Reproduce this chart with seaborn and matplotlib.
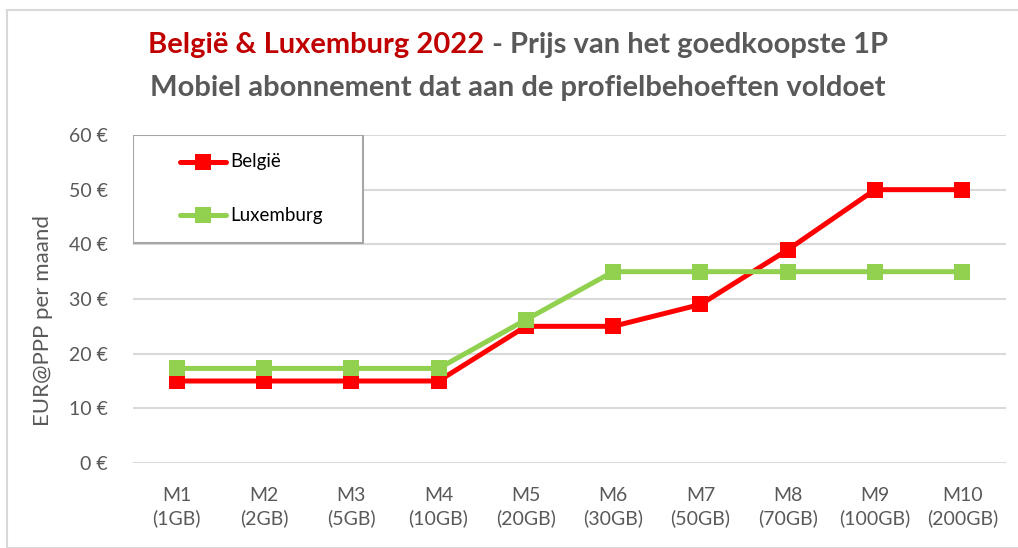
import numpy as np
import pandas as pd
import matplotlib
matplotlib.use("Agg")
import matplotlib.pyplot as plt
import seaborn as sns
from matplotlib.patches import Rectangle
from matplotlib.lines import Line2D

# data
plans = ["M1\n(1GB)", "M2\n(2GB)", "M3\n(5GB)", "M4\n(10GB)", "M5\n(20GB)",
         "M6\n(30GB)", "M7\n(50GB)", "M8\n(70GB)", "M9\n(100GB)", "M10\n(200GB)"]
belgie = [15, 15, 15, 15, 25, 25, 29, 39, 50, 50]
luxemburg = [17.3, 17.3, 17.3, 17.3, 26.2, 35, 35, 35, 35, 35]
countries = ["België", "Luxemburg"]
yticks = [0, 10, 20, 30, 40, 50, 60]

RED = "#FF0000"
GREEN = "#92D050"
GRAY = "#595959"

sns.set_theme(style="white")
plt.rcParams["font.family"] = ["Lato", "DejaVu Sans"]

df = pd.DataFrame({
    "plan": plans * 2,
    "pos": list(range(len(plans))) * 2,
    "price": belgie + luxemburg,
    "land": [countries[0]] * len(plans) + [countries[1]] * len(plans),
})

W, H = 1018, 548
fig = plt.figure(figsize=(W / 100, H / 100), dpi=100)
fig.patch.set_facecolor("white")

# outer chart border
fig.patches.append(Rectangle((7 / W, 0), 1.1, (H - 10) / H, transform=fig.transFigure,
                             fill=False, edgecolor="#D9D9D9", linewidth=1.5))

ax = fig.add_axes([133 / W, 85 / H, 873 / W, 328 / H])

sns.lineplot(data=df, x="pos", y="price", hue="land", hue_order=countries,
             palette=[RED, GREEN], marker="s", markersize=11, markeredgewidth=0,
             linewidth=3.6, ax=ax, legend=False, zorder=3)

ax.set_xlim(-0.5, len(plans) - 0.5)
ax.set_ylim(0, 60)
ax.set_xticks(range(len(plans)))
ax.set_xticklabels(plans, fontsize=14, color=GRAY, linespacing=1.4)
ax.set_yticks(yticks)
ax.set_yticklabels([f"{v} €" for v in yticks], fontsize=14, color=GRAY)
ax.tick_params(axis="x", length=0, pad=17)
ax.tick_params(axis="y", length=0, pad=18)
ax.grid(axis="y", color="#D9D9D9", linewidth=1.5)
ax.set_axisbelow(True)
for s in ax.spines.values():
    s.set_visible(False)
ax.set_xlabel("")
ax.set_ylabel("")

fig.text(43 / W, 1 - 321 / H, "EUR@PPP per maand", rotation=90, ha="center", va="center",
         fontsize=16, color=GRAY)

# legend box (Excel style)
lg_x0, lg_x1 = 0, 230 / 873
lg_y0 = (463 - 243) / 328
ax.add_patch(Rectangle((lg_x0, lg_y0), lg_x1 - lg_x0, 1 - lg_y0, transform=ax.transAxes,
                       facecolor="white", edgecolor="#A6A6A6", linewidth=1.5, zorder=5))
for i, (name, col) in enumerate(zip(countries, [RED, GREEN])):
    yy = (463 - (162 + i * 53)) / 328
    ax.add_line(Line2D([47 / 873, 93 / 873], [yy, yy], transform=ax.transAxes, color=col,
                       linewidth=3.6, zorder=6))
    ax.add_line(Line2D([70 / 873], [yy], transform=ax.transAxes, color=col,
                       marker="s", markersize=11, markeredgewidth=0, zorder=7))
    ax.text(97 / 873, yy, name, transform=ax.transAxes, ha="left", va="center",
            fontsize=13.5, color="black", zorder=7)

# two-colour title, first line
t1a = fig.text(0, 0, "België & Luxemburg 2022", fontsize=21, fontweight="bold", color="#C00000")
t1b = fig.text(0, 0, " - Prijs van het goedkoopste 1P", fontsize=21, fontweight="bold", color=GRAY)
fig.text(518 / W, 1 - 88 / H, "Mobiel abonnement dat aan de profielbehoeften voldoet",
         fontsize=21, fontweight="bold", color=GRAY, ha="center", va="center")

fig.canvas.draw()
r = fig.canvas.get_renderer()
wa = t1a.get_window_extent(r).width
wb = t1b.get_window_extent(r).width
x0 = 518 - (wa + wb) / 2
yl = 1 - 45 / H
t1a.set_position((x0 / W, yl))
t1a.set_va("center")
t1b.set_position(((x0 + wa) / W, yl))
t1b.set_va("center")

fig.savefig("out.png", dpi=100, facecolor="white")
